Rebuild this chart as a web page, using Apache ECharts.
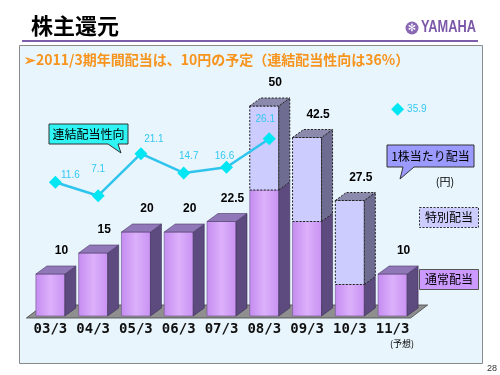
<!DOCTYPE html>
<html>
<head>
<meta charset="utf-8">
<script src="https://cdn.jsdelivr.net/npm/echarts@6/dist/echarts.min.js"></script>
<style>
html,body{margin:0;padding:0;background:#fff;}
#chart{width:500px;height:375px;}
</style>
</head>
<body>
<div id="chart"></div>
<script>
// ---- data ----
var categories = ['03/3','04/3','05/3','06/3','07/3','08/3','09/3','10/3','11/3'];
var regularDiv = [10, 15, 20, 20, 22.5, 30, 22.5, 7.5, 10];
var specialDiv = [0, 0, 0, 0, 0, 20, 20, 20, 0];
var payoutRatio = [11.6, 7.1, 21.1, 14.7, 16.6, 26.1, null, null, 35.9];

// ---- styling ----
var JP = '"Noto Sans CJK JP", "Noto Sans", sans-serif';
var lineLabelOffsets = [[15,7],[0,-13],[13,-1],[5,-3],[-2,3],[-4,-6],[0,0],[0,0],[0,0]];
var W = 29, DX = 11, DY = 8;

function renderBar(params, api){
  var i = api.value(0), reg = api.value(1), sp = api.value(2);
  var base = api.coord([i, 0]);
  var pR = api.coord([i, reg]);
  var pT = api.coord([i, reg + sp]);
  var x0 = base[0] - W/2, x1 = base[0] + W/2;
  var by = base[1], ry = pR[1], ty = pT[1];
  var ch = [];
  var dash = [2,1.5];
  ch.push({type:'rect', shape:{x:x0, y:ry, width:W, height:by-ry},
    style:{fill:new echarts.graphic.LinearGradient(0,0,1,0,[{offset:0,color:'#c48cf0'},{offset:0.5,color:'#dcb0fb'},{offset:1,color:'#c892f2'}]),
      stroke:'#6a5488', lineWidth:0.6}});
  ch.push({type:'polygon', shape:{points:[[x1,by],[x1+DX,by-DY],[x1+DX,ry-DY],[x1,ry]]},
    style:{fill:'#5d4a7e', stroke:'#3c2f55', lineWidth:0.6}});
  if (sp > 0){
    ch.push({type:'rect', shape:{x:x0, y:ty, width:W, height:ry-ty},
      style:{fill:'#ccccff', stroke:'#222', lineWidth:1, lineDash:dash}});
    ch.push({type:'polygon', shape:{points:[[x1,ry],[x1+DX,ry-DY],[x1+DX,ty-DY],[x1,ty]]},
      style:{fill:'#6e6c90', stroke:'#222', lineWidth:1, lineDash:dash}});
    ch.push({type:'polygon', shape:{points:[[x0,ty],[x0+DX,ty-DY],[x1+DX,ty-DY],[x1,ty]]},
      style:{fill:'#8c8aac', stroke:'#222', lineWidth:1, lineDash:dash}});
  } else {
    ch.push({type:'polygon', shape:{points:[[x0,ty],[x0+DX,ty-DY],[x1+DX,ty-DY],[x1,ty]]},
      style:{fill:'#9077b8', stroke:'#4a3a66', lineWidth:0.6}});
  }
  var total = reg + sp;
  ch.push({type:'text', x: base[0] + 11, y: ty - 23,
    style:{text: String(total), fill:'#000', font:'bold 12px "Liberation Sans", Arial, sans-serif', align:'center', verticalAlign:'middle'}});
  return {type:'group', children: ch};
}

function renderFloor(params, api){
  var a = api.coord([0, 0]);
  var b = api.coord([categories.length - 1, 0]);
  var y = a[1] + 2;
  var xa = a[0] - 24, xb = b[0] + 18;
  return {type:'polygon', shape:{points:[[xa,y],[xa+17,y-13],[xb+17,y-13],[xb,y]]},
    style:{fill:'#8f8f8f', stroke:'#444', lineWidth:0.8}};
}

var barData = categories.map(function(c, i){ return [i, regularDiv[i], specialDiv[i]]; });
var lineData = payoutRatio.map(function(v, i){
  if (v == null) return '-';
  var o = {value: v, label:{offset: lineLabelOffsets[i]}};
  if (i === payoutRatio.length - 1) o.label = {position:'right', offset:[0,0], distance:3};
  return o;
});

var chart = echarts.init(document.getElementById('chart'), null, {renderer:'canvas'});
chart.setOption({
  backgroundColor:'#ffffff',
  animation:false,
  grid:[
    {left:29, width:385, top:106, height:210},
    {left:34, width:385, top:97, height:120}
  ],
  xAxis:[
    {type:'category', gridIndex:0, data:categories, axisLine:{show:false}, axisTick:{show:false},
     axisLabel:{interval:0, margin:6, color:'#111', fontSize:14, fontWeight:'bold', fontFamily:'"DejaVu Sans Mono", monospace'}},
    {type:'category', gridIndex:1, data:categories, show:false}
  ],
  yAxis:[
    {type:'value', gridIndex:0, min:0, max:50, show:false},
    {type:'value', gridIndex:1, min:0, max:40, show:false}
  ],
  graphic:[
    {type:'text', left:31, top:15, style:{text:'株主還元', font:'bold 22px '+JP, fill:'#000'}},
    {type:'circle', shape:{cx:412, cy:28, r:6.5}, style:{fill:'#8a68b4'}},
    {type:'text', x:412, y:28, style:{text:'✻', font:'bold 10px "DejaVu Sans", sans-serif', fill:'#ffffff', align:'center', verticalAlign:'middle'}},
    {type:'text', x:421, y:28, scaleX:0.8, scaleY:1, originX:0, originY:0, style:{text:'YAMAHA', font:'bold 16px "Liberation Sans", sans-serif', fill:'#7b58a8', verticalAlign:'middle'}},
    {type:'line', shape:{x1:22, y1:41, x2:478, y2:41}, style:{stroke:'#7e5fae', lineWidth:2}},
    {type:'rect', z:-10, shape:{x:19.5, y:45.5, width:463, height:318}, style:{fill:'#e8f5fd', stroke:'#8a8a8a', lineWidth:1}},
    {type:'text', left:24, top:53, style:{text:'➢2011/3期年間配当は、10円の予定（連結配当性向は36%）', font:'bold 14px '+JP, fill:'#f7941d'}},
    {type:'polygon', shape:{points:[[49,124],[128,124],[128,144],[118,144],[121,153],[108,144],[49,144]]}, style:{fill:'#2ef4f4', stroke:'#333', lineWidth:1}},
    {type:'text', x:88.5, y:134, style:{text:'連結配当性向', font:'12px '+JP, fill:'#000', align:'center', verticalAlign:'middle'}},
    {type:'polygon', shape:{points:[[387,145],[474,145],[474,167],[414,167],[400,179],[403,167],[387,167]]}, style:{fill:'#9b9bff', stroke:'#333', lineWidth:1}},
    {type:'text', x:430.5, y:156, style:{text:'1株当たり配当', font:'12px '+JP, fill:'#000', align:'center', verticalAlign:'middle'}},
    {type:'text', x:445, y:182, style:{text:'(円)', font:'11px '+JP, fill:'#000', align:'center', verticalAlign:'middle'}},
    {type:'rect', shape:{x:419.5, y:207.5, width:59, height:20}, style:{fill:'#ccccff', stroke:'#333', lineWidth:1, lineDash:[2,1.5]}},
    {type:'text', x:449, y:217.5, style:{text:'特別配当', font:'12px '+JP, fill:'#000', align:'center', verticalAlign:'middle'}},
    {type:'rect', shape:{x:419.5, y:269.5, width:59, height:20}, style:{fill:'#cc99ff', stroke:'#555', lineWidth:1}},
    {type:'text', x:449, y:279.5, style:{text:'通常配当', font:'12px '+JP, fill:'#000', align:'center', verticalAlign:'middle'}},
    {type:'text', x:402, y:344, style:{text:'(予想)', font:'9px '+JP, fill:'#000', align:'center', verticalAlign:'middle'}},
    {type:'text', x:492, y:369, style:{text:'28', font:'9px "Liberation Sans", sans-serif', fill:'#333', align:'center', verticalAlign:'middle'}}
  ],
  series:[
    {type:'custom', xAxisIndex:0, yAxisIndex:0, renderItem:renderFloor, data:[[0]], z:1, silent:true},
    {type:'custom', xAxisIndex:0, yAxisIndex:0, renderItem:renderBar, data:barData, z:2,
     encode:{x:0, y:[1,2]}},
    {type:'line', xAxisIndex:1, yAxisIndex:1, data:lineData, z:5, connectNulls:false,
     symbol:'diamond', symbolSize:13, showAllSymbol:true,
     itemStyle:{color:'#00e6f2'}, lineStyle:{color:'#2ec4ee', width:2.5},
     label:{show:true, position:'top', distance:2, color:'#33c8f0', fontSize:10, fontFamily:'"Liberation Sans", Arial, sans-serif'}}
  ]
});
</script>
</body>
</html>
